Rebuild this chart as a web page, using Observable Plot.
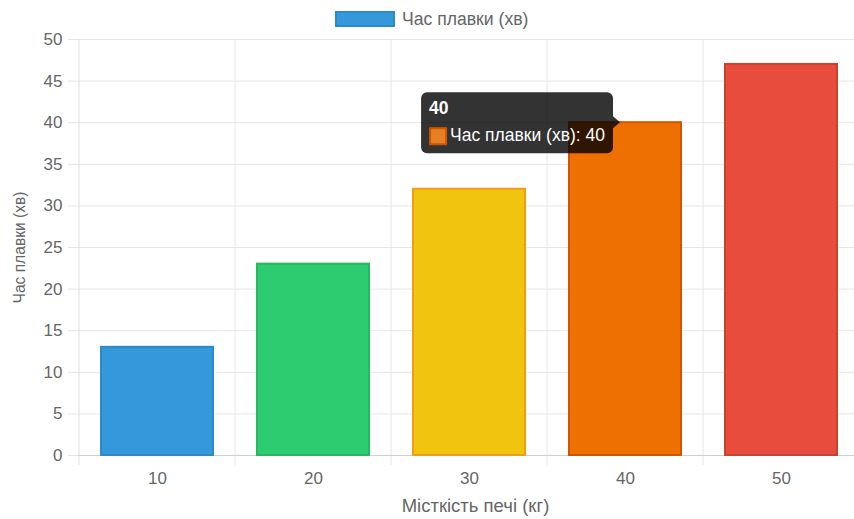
<!DOCTYPE html>
<html>
<head>
<meta charset="utf-8">
<script src="https://cdn.jsdelivr.net/npm/d3@7"></script>
<script src="https://cdn.jsdelivr.net/npm/@observablehq/plot@0.6"></script>
<style>
  body { margin: 0; background: #fff; }
  #wrap { position: relative; width: 854px; height: 519px; overflow: hidden; background: #fff;
          font-family: 'Liberation Sans', Arial, Helvetica, sans-serif; color: #666; }
  #legend { position: relative; height: 32px; }
  #legend .box { position: absolute; left: 335px; top: 11px; width: 56px; height: 12px;
                 border: 2px solid #2a8bcc; background: #3498db; }
  #legend .label { position: absolute; left: 402px; top: 9px; line-height: 20px; font-size: 17.6px; white-space: nowrap; }
  #chart svg { max-width: none !important; }
</style>
</head>
<body>
<div id="wrap">
  <div id="legend"><div class="box"></div><span class="label"></span></div>
  <div id="chart"></div>
</div>
<script>
// Furnace capacity (kg) vs. melting time (min)
const seriesName = "Час плавки (хв)";
const xTitle = "Місткість печі (кг)";
const capacities = ["10", "20", "30", "40", "50"];
const meltTimes = [13, 23, 32, 40, 47];
const yTicks = [0, 5, 10, 15, 20, 25, 30, 35, 40, 45, 50];
const activeCapacity = "40"; // bar with the open tooltip

// bar styling
const barFill = ["#3498db", "#2ecc71", "#f1c40f", "#e67e22", "#e74c3c"];
const barBorder = ["#2a8bcc", "#27b862", "#f39c12", "#d35400", "#c9412f"];
const activeFill = "#ee7000";

const data = capacities.map((cap, i) => ({cap, time: meltTimes[i], i}));
const active = data.find(d => d.cap === activeCapacity);

const FONT = "'Liberation Sans', Arial, Helvetica, sans-serif";
const TIP_SIZE = 17.5;
document.querySelector("#legend .label").textContent = seriesName;

// vertical grid lines between categories, running a little below the axis
function verticalGrid(index, {x}, values, {width, height, marginTop, marginBottom, marginRight}) {
  const bounds = capacities.map(c => x(c)).concat(width - marginRight);
  const g = d3.create("svg:g");
  g.selectAll("line").data(bounds).join("line")
    .attr("x1", d => d).attr("x2", d => d)
    .attr("y1", marginTop).attr("y2", height - marginBottom + 10)
    .attr("stroke", (d, i) => i === 0 ? "#dcdcdc" : "#e6e6e6")
    .attr("stroke-width", 1);
  return g.node();
}

// tooltip for the active bar
function tooltip(index, {x, y}) {
  const bw = typeof x.bandwidth === "function" ? x.bandwidth() : 0;
  const cx = x(active.cap) + bw / 2;
  const py = y(active.time);
  const body = `${seriesName}: ${active.time}`;
  const ctx = document.createElement("canvas").getContext("2d");
  ctx.font = `${TIP_SIZE}px ${FONT}`;
  const textW = ctx.measureText(body).width;
  const tip = cx - 5;
  const right = tip - 7;
  const w = textW + 37;
  const left = right - w;
  const top = py - 30;
  const h = 61;
  const g = d3.create("svg:g").attr("font-family", FONT).attr("font-size", TIP_SIZE).attr("text-anchor", "start");
  g.append("rect").attr("x", left).attr("y", top).attr("width", w).attr("height", h)
    .attr("rx", 6).attr("fill", "rgba(0,0,0,0.8)");
  g.append("path")
    .attr("d", `M${right},${py - 6}L${tip},${py}L${right},${py + 6}Z`)
    .attr("fill", "rgba(0,0,0,0.8)");
  g.append("text").attr("x", left + 8).attr("y", top + 22)
    .attr("fill", "#fff").attr("font-weight", "bold").text(active.cap);
  g.append("rect").attr("x", left + 9).attr("y", top + 36).attr("width", 16).attr("height", 16)
    .attr("fill", barFill[active.i]).attr("stroke", barBorder[active.i]).attr("stroke-width", 2);
  g.append("text").attr("x", left + 29).attr("y", top + 49)
    .attr("fill", "#fff").text(body);
  return g.node();
}

const chart = Plot.plot({
  width: 860,
  height: 487,
  marginTop: 7,
  marginBottom: 64,
  marginLeft: 78,
  marginRight: 0,
  style: {fontFamily: FONT, fontSize: "17px", color: "#666", background: "transparent", overflow: "visible", maxWidth: "none"},
  x: {type: "band", domain: capacities, padding: 0},
  y: {domain: [0, 50]},
  marks: [
    Plot.gridY(yTicks, {stroke: "#e6e6e6", strokeOpacity: 1}),
    verticalGrid,
    Plot.ruleY([0], {stroke: "#cfcfcf"}),
    Plot.barY(data, {
      x: "cap", y: "time",
      fill: d => d.cap === activeCapacity ? activeFill : barFill[d.i],
      stroke: d => barBorder[d.i],
      strokeWidth: 2,
      insetLeft: 22, insetRight: 22
    }),
    Plot.axisY(yTicks, {
      tickSize: 10, tickPadding: 6, stroke: "#e6e6e6", fill: "#666",
      label: seriesName, labelAnchor: "center", labelArrow: "none", labelOffset: 65
    }),
    Plot.axisX({
      tickSize: 0, tickPadding: 16, fill: "#666",
      label: xTitle, labelAnchor: "center", labelArrow: "none", labelOffset: 56
    }),
    tooltip
  ]
});

// axis title sizes
d3.select(chart).selectAll('[aria-label="y-axis label"], [aria-label="y-axis label"] text').attr("font-size", 15.6);
d3.select(chart).selectAll('[aria-label="x-axis label"], [aria-label="x-axis label"] text').attr("font-size", 18.5);
d3.select(chart).select('[aria-label="x-axis label"]').attr("transform", function () {
  const t = this.getAttribute("transform") || "";
  return `${t} translate(6,0)`;
});

document.getElementById("chart").appendChild(chart);
</script>
</body>
</html>
